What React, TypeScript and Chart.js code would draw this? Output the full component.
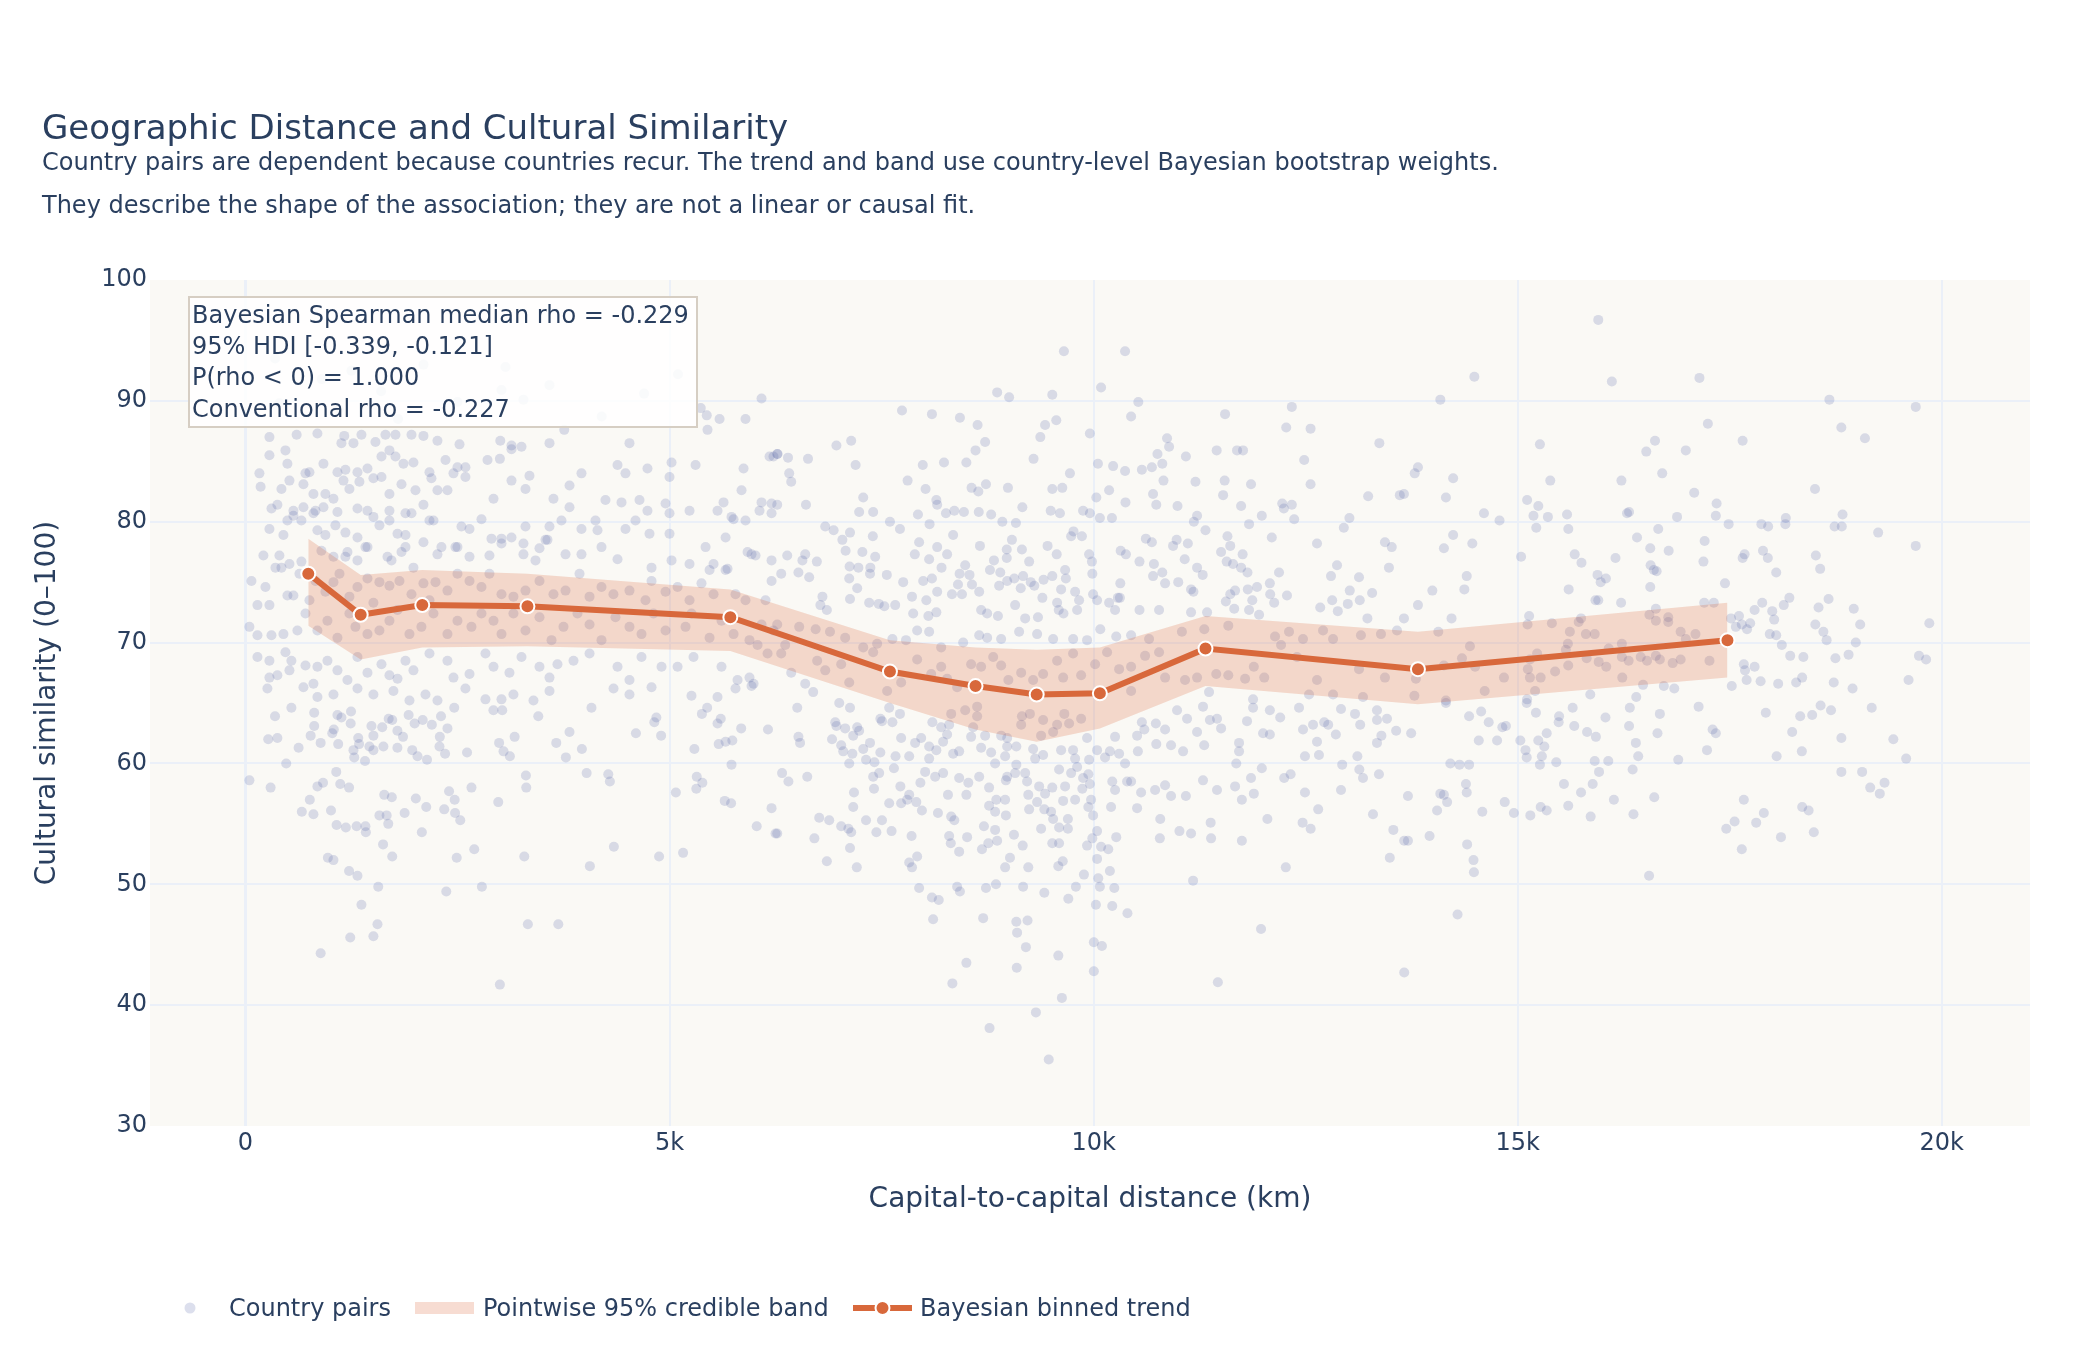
import { useEffect, useRef } from "react";
import { Chart, registerables } from "chart.js";

Chart.register(...registerables);

const FONT = '"DejaVu Sans", Verdana, sans-serif';
const INK = "#2a3f5f";
const TREND = "#d8683b";
const BAND = "rgba(217, 95, 50, 0.22)";
const DOTS = "rgba(80, 95, 165, 0.2)";
const PLOT_BG = "#faf9f5";
const GRID = "#ebf0f8";

const titleText = "Geographic Distance and Cultural Similarity";
const subtitleLines = [
  "Country pairs are dependent because countries recur. The trend and band use country-level Bayesian bootstrap weights.",
  "They describe the shape of the association; they are not a linear or causal fit.",
];
const statLines = [
  "Bayesian Spearman median rho = -0.229",
  "95% HDI [-0.339, -0.121]",
  "P(rho < 0) = 1.000",
  "Conventional rho = -0.227",
];
const xTitle = "Capital-to-capital distance (km)";
const yTitle = "Cultural similarity (0–100)";
const legendLabels = ["Country pairs", "Pointwise 95% credible band", "Bayesian binned trend"];

// binned Bayesian trend
const binCentersKm = [741, 1359, 2085, 3325, 5717, 7599, 8608, 9329, 10074, 11319, 13824, 17473];
const trendMedian = [75.7, 72.3, 73.1, 73.0, 72.1, 67.6, 66.4, 65.7, 65.8, 69.5, 67.8, 70.2];
const bandUpper = [78.6, 75.6, 76.0, 75.7, 74.4, 70.2, 69.6, 69.4, 69.6, 72.2, 70.9, 73.3];
const bandLower = [71.4, 68.6, 69.6, 69.7, 69.3, 65.0, 62.8, 61.8, 62.9, 66.4, 64.9, 67.1];

const xTicks = [0, 5000, 10000, 15000, 20000];
const yTicks = [30, 40, 50, 60, 70, 80, 90, 100];

// [distance km, similarity]
const countryPairs: [number, number][] = [
  [349,63.9],[542,64.6],[811,64.2],[811,63.1],[1085,64.0],[1132,63.8],[1245,64.3],[1241,63.3],[269,62.0],[377,62.1],
  [627,61.3],[769,62.3],[887,61.7],[1024,62.5],[1042,62.8],[1094,61.6],[1330,62.1],[1340,61.6],[1274,61.1],[1283,60.5],
  [1410,60.2],[1486,63.1],[1509,62.3],[1462,61.4],[1509,61.1],[1613,63.0],[1627,61.4],[1689,63.7],[1731,63.6],[1792,62.7],
  [1792,61.3],[1858,62.2],[1924,64.0],[1967,61.1],[1995,63.3],[2090,63.6],[2198,63.2],[2029,60.6],[2141,60.3],[2292,62.2],
  [2288,61.4],[2306,63.9],[2354,60.8],[2382,62.9],[2613,60.9],[2462,64.6],[2924,64.4],[3028,64.4],[2991,61.7],[3043,61.0],
  [3118,60.6],[3174,62.2],[3453,63.9],[3665,61.7],[3778,60.5],[3821,62.6],[3967,61.2],[4080,64.6],[4604,62.5],[4821,63.4],
  [4845,63.8],[4901,62.3],[5293,61.2],[5382,64.1],[5444,64.6],[5566,63.3],[5604,63.7],[5580,61.6],[5661,61.8],[5741,61.9],
  [5845,62.9],[6161,62.8],[5731,59.9],
  [47,58.6],[297,58.0],[481,60.0],[849,58.1],[915,58.4],[1071,59.3],[1118,58.3],[1222,58.0],[759,57.0],[665,56.0],
  [802,55.8],[1009,56.1],[1075,54.9],[1184,54.7],[1311,54.8],[1415,54.8],[1420,54.3],[1637,57.4],[1726,57.2],[1580,55.7],
  [1665,55.7],[1684,55.0],[1623,53.3],[1731,52.3],[972,52.2],[1038,52.0],[1222,51.1],[1321,50.7],[1566,49.8],[1368,48.3],
  [1557,46.7],[1236,45.6],[1509,45.7],[887,44.3],[2009,57.1],[2132,56.4],[1877,55.9],[2080,54.3],[2401,57.7],[2467,57.0],
  [2344,56.2],[2472,55.9],[2533,55.3],[2665,58.0],[2698,52.9],[2491,52.2],[2368,49.4],[2788,49.8],[2981,56.8],[3307,59.0],
  [3311,58.0],[3288,52.3],[3000,41.7],[3330,46.7],[3689,46.7],[4023,59.2],[4278,59.1],[4297,58.5],[4344,53.1],[4061,51.5],
  [4877,52.3],[5160,52.6],[5075,57.6],[5321,58.9],[5387,58.4],[5316,57.9],[5651,56.9],[5726,56.7],[6028,54.8],[6203,56.3],
  [6250,54.2],
  [6085,90.2],[5368,89.4],[5439,88.8],[5590,88.5],[5896,88.5],[5448,87.6],[3759,87.6],
  [283,87.0],[604,87.2],[849,87.3],[1165,87.1],[1132,86.5],[1274,86.5],[1368,87.2],[1533,86.6],[1651,87.2],[1769,87.2],
  [1958,87.2],[2099,87.1],[2264,86.7],[2524,86.4],[3005,86.7],[3137,86.3],[3255,86.2],[3585,86.5],[4528,86.5],
  [283,85.5],[472,85.9],[495,84.8],[708,84.0],[755,84.1],[920,84.8],[1085,84.1],[1179,84.3],[1321,84.1],[1439,84.4],
  [1604,85.4],[1698,85.9],[1769,85.4],[1863,84.8],[1981,84.9],[2170,84.1],[2359,85.1],[2500,84.5],[2594,84.5],[2854,85.1],
  [3000,85.2],[3137,86.0],[3962,84.0],[4387,84.7],[4481,84.0],[4740,84.4],[5024,84.9],[5000,83.7],[5307,84.7],[5873,84.4],
  [6179,85.4],
  [165,84.0],[179,82.9],[425,82.7],[519,83.4],[684,83.1],[802,82.3],[943,82.3],[1038,81.9],[1156,83.4],[1226,82.7],
  [1344,83.3],[1509,83.6],[1604,83.7],[1698,82.3],[1840,83.1],[2005,82.6],[2193,83.6],[2264,82.6],[2382,82.6],[2453,84.0],
  [2594,83.7],
  [307,81.1],[377,81.4],[566,80.9],[684,81.2],[826,80.9],[920,81.2],[1085,80.8],[1321,81.1],[1439,80.9],[1698,80.9],
  [1887,80.7],[2099,81.4],[2217,80.1],[2925,81.9],[3137,83.4],[3302,82.7],[3349,83.8],[3632,81.9],[3821,83.0],[3821,81.2],
  [4245,81.8],[4434,81.6],[4646,81.8],[4740,80.9],[4953,81.5],[5236,80.9],[5566,80.9],[5637,81.6],[5731,80.4],[5849,82.6],
  [6061,80.9],[6203,81.5],[6226,85.4],[6274,85.6],
  [283,79.4],[448,78.9],[495,80.1],[566,80.5],[660,80.1],[802,80.7],[849,79.3],[943,78.9],[1061,79.7],[1179,79.1],
  [1321,78.7],[1415,77.9],[1509,80.4],[1580,79.7],[1698,80.1],[1793,79.0],[1887,78.9],[1958,80.7],[2099,78.3],[2170,80.1],
  [2311,77.9],[2476,77.9],[2547,79.6],[2642,79.4],[2783,80.2],
  [2901,78.6],[3019,78.2],[3137,78.7],[3278,78.2],[3302,79.6],[3467,77.8],[3561,78.5],[3585,79.6],[3726,80.1],[3962,79.4],
  [4127,80.1],[4151,79.3],[4198,77.9],
  [4481,79.4],[4599,80.1],[4764,79.0],[5000,79.0],[5000,80.7],[5425,77.9],[5519,76.5],[5661,78.7],[5755,80.2],[5896,80.1],
  [5967,77.3],[6085,81.6],[6203,80.7],
  [212,77.2],[354,76.2],[401,77.2],[519,76.5],[660,76.7],
  [896,77.6],[1038,77.1],[1179,77.1],[1203,77.5],[1321,76.8],[1439,77.9],
  [1675,77.1],[1722,76.8],[1840,77.5],[1887,77.9],[1981,76.2],[2264,77.3],[2500,77.9],[2642,77.1],
  [2877,77.2],[3019,78.6],[3278,77.3],[3420,76.8],[3538,78.5],[3774,77.3],[3962,77.3],[4387,76.9],[4788,76.2],[5024,76.8],
  [5236,76.5],[5472,76.0],[5684,76.1],[5920,77.5],[6014,77.2],[6203,76.8],
  [71,75.1],[236,74.6],[142,73.1],[283,73.1],[425,76.2],[495,73.9],[566,73.9],[637,75.7],[755,73.5],[826,75.1],
  [943,74.2],[1038,75.0],[1109,75.7],[1226,73.8],[1321,74.6],[1439,75.3],[1509,73.3],[1580,75.0],
  [1698,74.7],[1816,75.1],[1958,74.0],[2099,74.9],[2170,73.5],[2241,75.0],[2382,74.3],[2500,75.7],[2642,75.1],[2783,74.6],
  [2877,75.7],[3019,74.0],[3160,73.8],[3302,74.3],[3467,75.1],[3632,74.0],[3774,74.3],[3939,75.7],[4057,73.8],[4198,74.6],
  [4339,74.0],[4528,74.3],[4717,73.5],[4788,75.1],[4953,74.2],[5095,74.6],[5236,73.5],[5377,74.9],[5519,74.0],[5661,76.0],
  [5778,74.0],[5896,73.5],[6132,73.5],[6203,75.1],
  [47,71.3],[142,70.6],[307,70.6],[448,70.7],[613,71.0],[708,72.4],[849,71.0],[967,71.8],[1085,70.4],[1226,72.4],
  [1297,71.3],[1439,70.7],[1580,71.0],[1698,71.8],[1793,72.7],[1934,70.7],[2075,71.3],[2217,72.4],[2382,70.7],[2500,71.8],
  [2665,71.3],[2783,72.4],[2925,71.8],[3019,70.7],[3160,72.4],[3302,71.0],[3467,72.1],[3609,70.2],[3750,71.3],[3915,72.4],
  [4057,71.5],[4198,70.2],[4363,72.1],[4528,71.3],[4670,70.7],[4811,72.4],[4953,71.0],[5189,71.3],[5259,72.4],[5472,70.4],
  [5613,71.8],[5755,70.7],[5943,70.2],[6085,71.5],[6226,71.0],
  [142,68.8],[283,68.5],[472,69.2],[542,68.5],[283,67.1],[377,67.3],[519,67.7],[708,68.1],[802,66.6],[849,68.0],
  [967,68.5],[1085,67.7],[1203,66.9],[1321,68.8],[1439,67.5],[1604,68.2],[1698,67.3],[1793,67.0],[1887,68.5],[1981,67.7],
  [2170,69.1],[2382,68.5],[2453,67.1],[2642,67.4],[2830,69.1],[2925,68.0],[3113,67.5],[3255,68.8],[3467,68.0],[3585,67.1],
  [3679,68.2],[3868,68.5],[4057,69.1],[4387,68.0],[4528,66.9],[4670,68.8],[4906,68.0],[5095,68.0],[5283,68.8],[5613,68.0],
  [5802,66.9],[5943,67.1],[5991,66.6],[6038,69.8],[6156,69.1],
  [259,66.2],[684,66.3],[849,65.5],[1038,65.7],[1321,66.2],[1509,65.7],[1745,66.0],[1934,65.2],[2123,65.7],[2264,65.2],
  [2594,66.2],[2830,65.3],[3019,65.3],[3160,65.7],[3396,65.2],[3585,66.0],[4340,66.2],[4528,65.7],[4788,66.3],[5259,65.6],
  [5566,65.5],[5778,66.2],[5967,66.4],
  [3066,92.8],[3019,90.9],[3585,91.3],[3278,90.1],[350,93.5],[900,91.8],[1250,92.5],[1600,90.8],[2100,93.0],[2500,89.9],
  [4200,88.7],[1100,89.3],[400,89.8],[1800,88.5],[4700,90.6],[5100,92.2],
  [9650,94.1],[10371,94.1],[8863,90.7],[9004,90.3],[9513,90.5],[10088,91.1],[10527,89.9],
  [7741,89.2],[8094,88.9],[8424,88.6],[8632,88.0],[9428,88.0],[9560,88.4],[10442,88.7],[11550,88.9],[12337,89.5],[12271,87.8],
  [12558,87.7],
  [6968,86.3],[7142,86.7],[8721,86.6],[8608,85.9],[9372,87.0],[9956,87.3],[10866,86.9],[10890,86.2],[11451,85.9],[11691,85.9],
  [11762,85.9],[13369,86.5],[12483,85.1],
  [6270,85.6],[6397,85.3],[6633,85.2],[7194,84.7],[7986,84.7],[8236,84.9],[8500,84.9],[9292,85.2],[10051,84.8],[10230,84.6],
  [10371,84.2],[10569,84.3],[10687,84.5],[10753,85.6],[10810,84.8],[11088,85.4],[9721,84.0],
  [6411,84.0],[6435,83.3],[7807,83.4],[8019,82.7],[8561,82.8],[8641,82.5],[8731,83.1],[8990,82.8],[9513,82.7],[9631,82.8],
  [10183,82.6],[10824,83.4],[11201,83.3],[11545,83.4],[11527,82.2],[11856,83.1],[12558,83.1],[13610,82.2],
  [6270,81.4],[6609,81.4],[7284,82.0],[8146,81.8],[8156,81.4],[9160,81.2],[10032,82.0],[10376,81.6],[10701,82.3],[10739,81.4],
  [10989,81.3],[11739,81.3],[12224,81.5],[12337,81.4],[13237,82.1],
  [7236,80.8],[7401,80.8],[7929,80.6],[8259,80.7],[8358,80.9],[8471,80.8],[8646,80.8],[8792,80.6],[9494,80.9],[9603,80.7],
  [9876,80.9],[9956,80.7],[10074,80.3],[10216,80.3],[11220,80.5],[11983,80.5],[12243,81.1],[12365,80.2],[13016,80.3],
  [6836,79.6],[6935,79.3],[7128,79.1],[7599,80.0],[7717,79.4],[8066,79.8],[8924,80.0],[9084,79.9],[9763,79.2],[9735,78.8],
  [9862,78.8],[11182,80.0],[11319,79.3],[11833,79.8],[12950,79.5],[12101,78.7],
  [7038,78.5],[7397,78.8],[7943,78.3],[8344,78.9],[8660,78.0],[9037,78.5],[9457,78.0],[10616,78.6],[10687,78.3],[10979,78.5],
  [11111,78.2],[11578,78.8],[12634,78.2],[13435,78.3],[13515,77.9],
  [6600,77.3],[7076,77.6],[7274,77.5],[7425,77.1],[7892,77.3],[8156,77.9],[8273,77.3],[8976,77.7],[9155,77.7],[9565,77.3],
  [9947,77.3],[10319,77.6],[10381,77.3],[10937,78.0],[11503,77.5],[11611,78.0],[11757,77.3],
  [6388,77.2],[6567,76.8],[6737,76.7],[7123,76.3],[7227,76.2],[7368,76.2],[7562,75.6],[8061,76.9],[8207,76.2],[8486,76.4],
  [8825,76.8],[8976,77.0],[9240,76.7],[9664,76.0],[9980,76.7],[10541,76.7],[10711,76.5],[11074,76.9],[11220,76.2],[11569,76.7],
  [11644,76.5],[11739,76.2],[12870,76.4],[13482,76.2],
  [6317,75.7],[6520,75.8],[6647,75.4],[7119,75.3],[7364,75.7],[7755,75.0],[7991,75.1],[8094,75.3],[8420,75.7],[8537,75.6],
  [8778,76.0],[8900,75.8],[9065,75.3],[9169,75.5],[9259,75.0],[9410,75.2],[9513,75.5],[9673,75.3],[9985,75.7],[10701,75.5],
  [10810,75.8],[10843,74.9],[10998,75.0],[11286,75.6],[11814,75.8],[12186,75.8],[12799,75.5],[13129,75.4],
  [6803,73.8],[7213,74.5],[7859,73.8],[8028,73.5],[8156,74.2],[8330,74.0],[8401,74.8],[8448,74.0],[8566,74.8],[8651,74.2],
  [8886,74.7],[8981,75.1],[9141,74.5],[9301,74.7],[9396,73.7],[9617,74.4],[9782,74.2],[9829,73.5],[9994,74.0],[10286,73.7],
  [10315,74.9],[11149,74.4],[11177,74.2],[11611,74.0],[11668,74.3],[11818,74.4],[11927,74.6],[12078,74.9],[12082,74.0],[12280,73.9],
  [13020,74.3],[13284,74.1],[13138,73.5],
  [6779,73.1],[6855,72.7],[7128,73.6],[7354,73.3],[7467,73.2],[7533,73.0],[7661,73.1],[7873,72.4],[8052,72.2],[8146,72.5],
  [8674,72.7],[8745,72.4],[8872,72.2],[9075,73.1],[9193,72.0],[9344,72.1],[9570,73.3],[9589,72.7],[9645,72.4],[9806,72.7],
  [10041,73.5],[10183,73.3],[10253,72.7],[10310,73.7],[10541,72.7],[10772,72.7],[11149,72.5],[11338,72.5],[11559,73.4],[11658,72.8],
  [11833,72.7],[11871,73.5],[11951,72.3],[12129,73.3],[12672,72.9],[12813,73.5],[12879,72.6],[12997,73.2],[13228,72.0],
  [6270,71.5],[6364,69.8],[6529,71.3],[6723,71.1],[6892,70.9],[7071,70.4],[7284,69.6],[7448,69.9],[7628,70.3],[7788,70.2],
  [7920,71.0],[8061,70.9],[8203,69.6],[8462,70.0],[8651,70.6],[8745,70.4],[8910,70.3],[9122,70.9],[9334,70.7],[9523,70.3],
  [9759,70.3],[9923,70.2],[10079,71.1],[10267,70.5],[10442,70.6],[10654,70.3],[11041,70.9],[11305,71.1],[11588,71.4],[12139,70.5],
  [12304,70.9],[12469,70.3],[12705,71.0],[12823,70.3],[13152,70.6],[13388,70.7],[13577,71.0],
  [6317,69.1],[6435,67.5],[6600,66.6],[6694,65.9],[6741,68.5],[6836,67.7],[7024,68.2],[7119,66.7],[7401,69.2],[7566,66.0],
  [7731,66.7],[7920,68.6],[8085,67.4],[8203,68.0],[8273,67.0],[8391,66.3],[8556,68.2],[8674,68.0],[8816,68.8],[8910,68.1],
  [8995,66.9],[9146,67.5],[9287,66.9],[9405,67.4],[9570,68.5],[9641,67.1],[9758,69.1],[9853,67.3],[10018,68.2],[10159,69.2],
  [10301,67.8],[10442,68.0],[10442,66.0],[10607,68.9],[10772,69.2],[10843,67.1],[11078,66.9],[11220,67.1],[11446,67.4],[11588,67.3],
  [11786,67.0],[11889,68.0],[12012,67.1],[12210,69.8],[12398,68.8],[12634,66.9],[12823,65.7],[13129,67.8],[13435,67.1],[13176,65.5],
  [11880,65.3],[11361,65.9],[12540,65.7],
  [6506,64.6],[7001,65.0],[7128,64.6],[7590,64.6],[7717,64.1],[6954,63.4],[6968,63.1],[7071,62.9],[7213,63.0],[7236,62.7],
  [7486,63.7],[7505,63.5],[7628,63.4],[6520,62.2],[6539,61.7],[6916,62.0],[7024,61.5],[7048,61.0],[7166,62.3],[7156,60.8],
  [7284,61.2],[7364,61.7],[7317,60.3],[7416,60.1],[7486,60.9],[7119,60.0],[7665,60.6],[7646,59.6],[7731,62.1],[7826,60.6],
  [7896,61.7],[7967,62.1],[8061,61.4],[8061,60.4],[8099,63.4],[8146,61.1],[8203,63.0],[8226,61.8],[8273,62.4],[8297,63.2],
  [8344,60.8],[8415,61.0],[8321,64.1],[8486,64.4],[8556,62.2],[8580,63.0],[8627,64.7],[8627,63.9],[8674,61.3],[8721,62.3],
  [8792,60.9],[8839,60.0],[8910,62.3],[8957,60.6],[8981,62.1],[8981,61.4],[9089,61.4],[9146,63.2],[9155,63.9],[9249,64.1],
  [9287,61.2],[9311,60.4],[9381,62.3],[9405,63.6],[9405,60.7],[9523,62.6],[9570,63.2],[9617,61.1],[9655,64.1],[9711,63.3],
  [9782,60.4],[9758,61.1],[9853,63.7],[9923,62.1],[9947,60.3],[10041,61.1],[10135,60.5],[10192,61.0],[10253,62.2],[10301,60.8],
  [10371,60.0],[10513,62.3],[10522,61.0],[10569,63.4],[10598,62.8],[10739,61.6],[10734,63.3],[10913,61.5],[11055,61.0],[10843,62.8],
  [10984,64.4],[11102,63.7],[11220,62.6],[11290,64.7],[11304,61.5],[11371,63.6],[11455,63.7],[11503,62.9],[11715,61.7],[11715,61.0],
  [11682,60.0],[11809,63.5],[11880,64.6],[11998,62.5],[12078,62.4],[12078,64.4],[12200,63.8],[12422,64.6],[12469,62.8],[12492,60.6],
  [12587,63.2],[12634,61.8],[12657,60.7],[12719,63.4],[12766,63.2],[12856,62.4],[12917,64.5],[12931,59.9],[13082,64.1],[13110,60.6],
  [13143,63.2],[13341,64.4],[13341,63.6],[13393,62.3],[13341,61.7],[13459,63.7],[13567,62.7],
  [6327,59.2],[6402,58.5],[6624,58.9],[7175,57.6],[7166,56.4],[7401,58.9],[7411,57.9],[7472,59.2],[7590,56.7],[7722,58.1],
  [7731,56.7],[7802,57.0],[7826,57.4],[7910,56.8],[7958,58.4],[7976,56.1],[8014,59.3],[8132,58.9],[8165,55.9],[8226,59.2],
  [8283,57.4],[8321,55.6],[8358,55.3],[8415,58.8],[8500,57.4],[8523,58.4],[8651,58.9],[8768,58.0],[8768,56.5],[8853,57.0],
  [8839,56.0],[8957,57.0],[8966,55.7],[8966,58.6],[8981,58.9],[9089,59.9],[9075,59.2],[9193,59.2],[9216,58.5],[9230,57.4],
  [9240,56.2],[9334,56.8],[9358,58.1],[9428,57.5],[9419,56.2],[9513,58.0],[9499,56.0],[9523,55.4],[9593,59.5],[9641,56.9],
  [9664,58.1],[9697,55.4],[9735,59.2],[9782,57.0],[9806,59.7],[9867,57.9],[9876,58.8],[9938,59.1],[9938,56.4],[9956,58.3],
  [9970,57.0],[9994,55.7],[10220,58.5],[10206,56.4],[10253,57.8],[10395,58.5],[10513,56.3],[10442,58.5],[10560,57.6],[10725,57.8],
  [10843,58.2],[10913,57.3],[11088,57.3],[11290,58.6],[11455,57.8],[11668,58.1],[11748,57.0],[11856,58.8],[11889,57.5],[11983,59.6],
  [12247,58.8],[12323,59.1],[12492,57.6],[12648,56.2],[12917,57.8],[13133,59.5],[13176,58.8],[13364,59.1],[13294,55.8],
  [6270,54.2],[6708,53.8],[6765,55.5],[6883,55.3],[7024,54.8],[7109,54.6],[7142,54.3],[7317,55.3],[7439,54.3],[7505,55.3],
  [7618,54.4],[7854,54.0],[7920,52.3],[7826,51.8],[7859,51.4],[6855,51.9],[7128,53.0],[7208,51.4],[8297,54.0],[8316,53.4],
  [8415,52.7],[8509,53.9],[8684,52.9],[8707,54.8],[8759,53.4],[8839,54.5],[8863,53.6],[8957,51.4],[9014,52.2],[9061,54.1],
  [9164,53.2],[9230,51.4],[9381,54.6],[9513,53.4],[9593,53.4],[9584,51.5],[9636,51.9],[9593,54.7],[9697,54.6],[9886,50.8],
  [9923,53.2],[9985,53.8],[10041,54.4],[10041,52.1],[10055,50.5],[10088,53.1],[10173,52.9],[10192,51.1],[10267,53.9],[10786,55.4],
  [10781,53.8],[11012,54.4],[11149,54.2],[11380,55.1],[11385,53.8],[11748,53.6],[12049,55.4],[12266,51.4],[12464,55.1],[12559,54.6],
  [13534,54.5],[13492,52.2],[11173,50.3],[13662,53.6],
  [7943,49.7],[8094,48.9],[8174,48.7],[8391,49.8],[8424,49.4],[8731,49.7],[8849,50.0],[9169,49.8],[9419,49.3],[9702,48.8],
  [9791,49.8],[10027,48.3],[10074,49.8],[10220,48.2],[10244,49.7],[10399,47.6],[8108,47.1],[8698,47.2],[9089,46.9],[9221,47.0],
  [9098,46.0],[9202,44.8],[9584,44.1],[10003,45.2],[10098,44.9],[8500,43.5],[9094,43.1],[10003,42.8],[8335,41.8],[11465,41.9],
  [11974,46.3],[9626,40.6],[9320,39.4],[8773,38.1],[9471,35.5],[13662,42.7],
  [15950,96.7],[14489,92.0],[16110,91.6],[17143,91.9],[14088,90.1],[18675,90.1],[19693,89.5],[17242,88.1],[18816,87.8],[19094,86.9],
  [16619,86.7],[16516,85.8],[16982,85.9],[17652,86.7],[15262,86.4],[13824,84.5],[13786,84.0],[14239,83.6],[13659,82.3],[14154,82.0],
  [15384,83.4],[16223,83.4],[16704,84.0],[17081,82.4],[17345,81.5],[18505,82.7],
  [15111,81.8],[15243,81.3],[15186,80.5],[15356,80.4],[15582,80.6],[15219,79.5],[15597,79.4],[14602,80.7],[14786,80.1],[16289,80.7],
  [16313,80.8],[16879,80.4],[17336,80.5],[17487,79.8],[17873,79.8],[17953,79.6],[18161,80.3],[18156,79.8],[18830,80.6],[18821,79.6],
  [18736,79.6],[19250,79.1],[16657,79.4],[16407,78.7],[14239,78.9],[14130,77.8],[14465,78.2],[17204,78.4],[16780,77.6],[16563,77.8],
  [17190,76.7],[15040,77.1],[15672,77.3],[15752,76.6],[16153,77.0],[17675,77.3],[17652,77.0],[17892,77.6],[17949,77.0],[18515,77.2],
  [18566,76.1],[18048,75.8],[19693,78.0],[16567,76.4],[16605,76.0],[16638,75.9],[14399,75.5],[14371,74.4],[13994,74.3],[13824,73.1],
  [15941,75.6],[15978,75.0],[16040,75.3],[15601,74.4],[16563,74.6],[17444,74.9],[15917,73.5],[15950,73.5],[16219,73.3],[17199,73.3],
  [17312,73.3],
  [17883,73.3],[18203,73.7],[18665,73.6],[18137,73.1],[18547,72.9],[18962,72.8],[17793,72.7],[18001,72.6],[19853,71.6],[19038,71.5],
  [18509,71.5],[18604,70.9],[18642,70.2],[18986,70.0],[18024,71.9],[17972,70.7],[18048,70.6],[18114,69.8],[18213,68.9],[18368,68.8],
  [18746,68.7],[18901,69.0],[19731,68.9],[19815,68.6],[19608,66.9],[18726,66.7],[18948,66.2],[18354,67.1],[18283,66.7],[18071,66.6],
  [17864,66.8],[17699,66.9],[17524,66.4],[17793,68.0],[17666,68.2],[17680,67.7],[17515,72.0],[17609,72.2],[17572,71.3],[17642,71.5],
  [17704,71.1],[17741,71.6],
  [13659,72.0],[14220,72.0],[14064,70.9],[14437,69.7],[14343,68.7],[14130,68.1],[14498,68.0],[13800,67.0],[13782,65.6],[14154,65.2],
  [14611,66.0],[14838,67.1],[15135,72.2],[15116,71.5],[15403,71.6],[15719,71.7],[15747,72.0],[15615,70.9],[15804,70.7],[15908,70.7],
  [15592,69.9],[15568,69.4],[15229,69.1],[15144,68.6],[15120,67.8],[15144,67.1],[15271,67.1],[15441,67.6],[15596,68.1],[15813,68.7],
  [15955,68.4],[16044,68.0],[16073,69.5],[16228,69.9],[16228,68.8],[16308,68.5],[16450,68.8],[16525,68.5],[16629,68.9],[16676,68.6],
  [16827,68.3],[16921,68.6],[17261,68.5],[16233,67.1],[16478,66.5],[16723,66.4],[16846,66.2],[15856,65.7],[16398,65.5],[15111,65.3],
  [15205,66.0],[16553,72.3],[16629,72.8],[16629,71.8],[16775,72.1],[16775,71.7],[16921,70.9],[16982,70.3],[17096,70.7],
  [14154,65.0],[14427,63.9],[14569,64.3],[14658,63.4],[14819,63.0],[14861,63.1],[13744,62.5],[14541,61.9],[14757,61.9],[15031,61.9],
  [15092,61.1],[15106,60.5],[15243,61.9],[15342,62.5],[15314,61.4],[15285,60.6],[15262,59.9],[15455,60.1],[15215,64.2],[15106,65.0],
  [15488,63.9],[15483,63.4],[15648,64.6],[15667,63.1],[15818,62.6],[15922,62.2],[16035,63.8],[15908,60.2],[16068,60.2],[15959,59.3],
  [16322,64.6],[16313,63.1],[16393,61.7],[16421,60.6],[16355,59.5],[16676,64.1],[16648,62.5],[16893,60.3],[17133,64.7],[17298,62.8],
  [17336,62.5],[17232,61.1],[17925,64.2],[18331,63.9],[18472,64.0],[18571,64.8],[18694,64.4],[19174,64.6],[18236,62.6],[18816,62.1],
  [19429,62.0],[18053,60.6],[18350,61.0],[19580,60.4],[14206,60.0],[14314,59.9],[14427,59.9],[14390,58.3],[14399,57.6],[13706,57.3],
  [14088,57.5],[14130,57.4],[14168,56.8],[14050,56.1],[14583,56.0],[14847,56.8],[14955,55.9],[15149,55.7],[15271,56.4],[15342,56.1],
  [15545,58.3],[15596,56.5],[15747,57.6],[15884,58.3],[15860,55.6],[16134,57.0],[16365,55.8],[16610,57.2],[13706,53.6],[13961,54.0],
  [14404,53.3],[14479,52.0],[14484,51.0],[16549,50.7],[14291,47.5],[17666,57.0],[17459,54.6],[17557,55.2],[17812,55.1],[17902,55.9],
  [17642,52.9],[18104,53.9],[18354,56.4],[18430,56.1],[18491,54.3],[18816,59.3],[19061,59.3],[19156,58.0],[19269,57.5],[19325,58.4],
];

const decorPlugin = {
  id: "decor",
  beforeDraw(chart: any) {
    const { ctx, chartArea: a } = chart;
    ctx.save();
    ctx.fillStyle = PLOT_BG;
    ctx.fillRect(a.left, a.top, a.right - a.left, a.bottom - a.top);
    ctx.restore();
  },
  afterDraw(chart: any) {
    const { ctx, chartArea: a } = chart;
    ctx.save();
    ctx.fillStyle = INK;
    ctx.textAlign = "left";
    ctx.textBaseline = "alphabetic";
    ctx.font = `34px ${FONT}`;
    ctx.fillText(titleText, 42, 139);
    ctx.font = `24px ${FONT}`;
    ctx.fillText(subtitleLines[0], 42, 170);
    ctx.fillText(subtitleLines[1], 42, 213);

    // axis titles
    ctx.font = `28px ${FONT}`;
    ctx.textAlign = "center";
    ctx.fillText(xTitle, (a.left + a.right) / 2, 1207);
    ctx.save();
    ctx.translate(55, (a.top + a.bottom) / 2);
    ctx.rotate(-Math.PI / 2);
    ctx.fillText(yTitle, 0, 0);
    ctx.restore();

    // stats box
    ctx.fillStyle = "rgba(255,255,255,0.85)";
    ctx.fillRect(189, 297, 508, 130);
    ctx.strokeStyle = "#d6cec3";
    ctx.lineWidth = 2;
    ctx.strokeRect(189, 297, 508, 130);
    ctx.fillStyle = INK;
    ctx.font = `24px ${FONT}`;
    ctx.textAlign = "left";
    statLines.forEach((t, i) => ctx.fillText(t, 192, 323 + i * 31.2));

    // legend
    const ly = 1308;
    ctx.fillStyle = DOTS;
    ctx.beginPath();
    ctx.arc(190, ly, 5.5, 0, Math.PI * 2);
    ctx.fill();
    ctx.fillStyle = BAND;
    ctx.fillRect(415, ly - 6, 59, 12);
    ctx.strokeStyle = TREND;
    ctx.lineWidth = 6;
    ctx.beginPath();
    ctx.moveTo(853, ly);
    ctx.lineTo(912, ly);
    ctx.stroke();
    ctx.beginPath();
    ctx.arc(882.5, ly, 7, 0, Math.PI * 2);
    ctx.fillStyle = TREND;
    ctx.fill();
    ctx.strokeStyle = "#ffffff";
    ctx.lineWidth = 2;
    ctx.stroke();
    ctx.fillStyle = INK;
    ctx.fillText(legendLabels[0], 229, 1316);
    ctx.fillText(legendLabels[1], 483, 1316);
    ctx.fillText(legendLabels[2], 920, 1316);
    ctx.restore();
  },
};

const tickFont = { family: FONT, size: 24 };

export default function App() {
  const canvasRef = useRef<HTMLCanvasElement | null>(null);

  useEffect(() => {
    document.body.style.margin = "0";
    const ctx = canvasRef.current?.getContext("2d");
    if (!ctx) return;

    const chart = new Chart(ctx, {
      type: "scatter",
      data: {
        datasets: [
          {
            type: "line",
            label: legendLabels[2],
            data: binCentersKm.map((x, i) => ({ x, y: trendMedian[i] })),
            borderColor: TREND,
            borderWidth: 6,
            pointRadius: 7,
            pointBackgroundColor: TREND,
            pointBorderColor: "#ffffff",
            pointBorderWidth: 2,
            tension: 0,
            fill: false,
            order: 0,
          },
          {
            type: "line",
            label: legendLabels[1],
            data: binCentersKm.map((x, i) => ({ x, y: bandUpper[i] })),
            borderColor: "rgba(0,0,0,0)",
            borderWidth: 0,
            pointRadius: 0,
            backgroundColor: BAND,
            fill: "+1",
            tension: 0,
            order: 1,
          },
          {
            type: "line",
            label: "band lower",
            data: binCentersKm.map((x, i) => ({ x, y: bandLower[i] })),
            borderColor: "rgba(0,0,0,0)",
            borderWidth: 0,
            pointRadius: 0,
            fill: false,
            tension: 0,
            order: 2,
          },
          {
            type: "scatter",
            label: legendLabels[0],
            data: countryPairs.map(([x, y]) => ({ x, y })),
            pointRadius: 5,
            backgroundColor: DOTS,
            borderColor: "rgba(0,0,0,0)",
            borderWidth: 0,
            order: 3,
          },
        ],
      } as any,
      options: {
        responsive: false,
        animation: false,
        devicePixelRatio: 1,
        events: [],
        layout: { padding: { top: 280, right: 70, bottom: 174, left: 0 } },
        plugins: {
          legend: { display: false },
          title: { display: false },
          tooltip: { enabled: false },
        },
        scales: {
          x: {
            type: "linear",
            min: -1125,
            max: 21040,
            afterBuildTicks: (s: any) => {
              s.ticks = xTicks.map((value) => ({ value }));
            },
            afterFit: (s: any) => {
              s.height = 60;
            },
            border: { display: false },
            grid: {
              color: GRID,
              lineWidth: (c: any) => (c.tick && c.tick.value === 0 ? 3 : 2),
              drawTicks: false,
            },
            ticks: {
              padding: 3,
              color: INK,
              font: tickFont,
              autoSkip: false,
              maxRotation: 0,
              callback: (v: any) => (Number(v) === 0 ? "0" : `${Number(v) / 1000}k`),
            },
          },
          y: {
            type: "linear",
            min: 30,
            max: 100,
            afterBuildTicks: (s: any) => {
              s.ticks = yTicks.map((value) => ({ value }));
            },
            afterFit: (s: any) => {
              s.width = 150;
            },
            border: { display: false },
            grid: {
              color: (c: any) =>
                c.tick && (c.tick.value === 30 || c.tick.value === 100) ? "rgba(0,0,0,0)" : GRID,
              lineWidth: 2,
              drawTicks: false,
            },
            ticks: { padding: 3, color: INK, font: tickFont, autoSkip: false },
          },
        },
      },
      plugins: [decorPlugin],
    });

    return () => {
      chart.destroy();
    };
  }, []);

  return (
    <div style={{ width: 2100, height: 1360, background: "#ffffff" }}>
      <canvas ref={canvasRef} width={2100} height={1360} style={{ display: "block" }} />
    </div>
  );
}
